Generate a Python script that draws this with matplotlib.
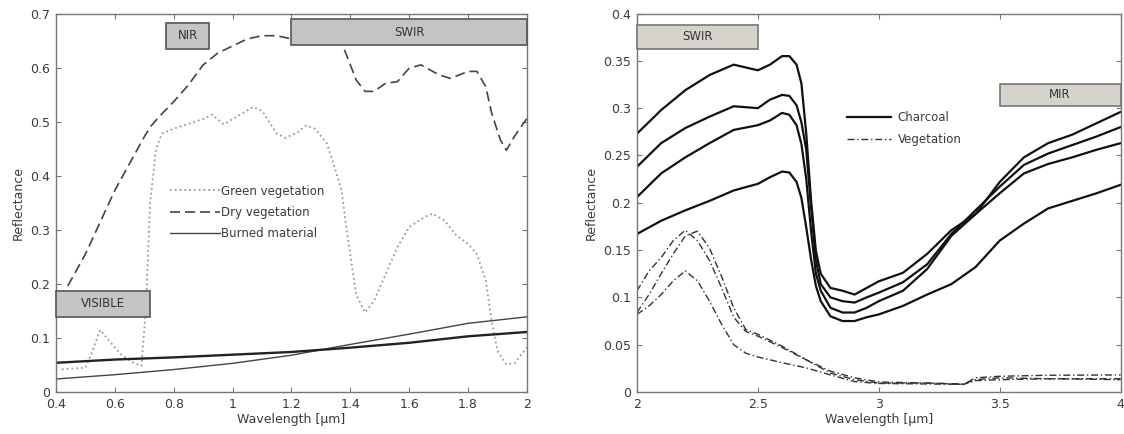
import numpy as np
import matplotlib
matplotlib.use("Agg")
import matplotlib.pyplot as plt
from matplotlib.patches import Rectangle
from matplotlib.ticker import FuncFormatter

# ---- left panel: VIS / NIR / SWIR spectra ----
green_wl = [0.42, 0.50, 0.52, 0.55, 0.58, 0.62, 0.66, 0.69, 0.705, 0.72, 0.74, 0.76, 0.80, 0.90, 0.93,
            0.97, 1.00, 1.07, 1.10, 1.15, 1.18, 1.22, 1.25, 1.28, 1.32, 1.35, 1.37, 1.39, 1.42, 1.45,
            1.48, 1.52, 1.56, 1.60, 1.65, 1.68, 1.72, 1.76, 1.80, 1.83, 1.86, 1.88, 1.90, 1.93, 1.96,
            1.98, 2.00]
green_refl = [0.042, 0.045, 0.070, 0.115, 0.095, 0.070, 0.055, 0.048, 0.15, 0.35, 0.45, 0.478, 0.487,
              0.505, 0.513, 0.495, 0.505, 0.527, 0.520, 0.478, 0.470, 0.480, 0.493, 0.487, 0.460, 0.410,
              0.373, 0.290, 0.180, 0.147, 0.168, 0.218, 0.268, 0.305, 0.323, 0.330, 0.317, 0.290, 0.274,
              0.255, 0.206, 0.131, 0.076, 0.051, 0.054, 0.069, 0.082]

dry_wl = [0.44, 0.50, 0.60, 0.70, 0.72, 0.75, 0.80, 0.85, 0.90, 0.95, 1.00, 1.05, 1.10, 1.15, 1.20,
          1.30, 1.38, 1.42, 1.45, 1.48, 1.52, 1.56, 1.60, 1.64, 1.70, 1.74, 1.80, 1.83, 1.86, 1.88,
          1.91, 1.93, 1.96, 2.00]
dry_refl = [0.196, 0.255, 0.373, 0.472, 0.490, 0.509, 0.537, 0.568, 0.605, 0.627, 0.640, 0.653, 0.659,
            0.659, 0.653, np.nan, 0.633, 0.577, 0.556, 0.556, 0.571, 0.574, 0.599, 0.605, 0.587, 0.580,
            0.593, 0.593, 0.565, 0.516, 0.466, 0.447, 0.475, 0.506]

burned_wl = [0.4, 0.6, 0.8, 1.0, 1.2, 1.4, 1.6, 1.8, 2.0]
burned_a = [0.054, 0.060, 0.064, 0.069, 0.074, 0.082, 0.091, 0.103, 0.111]
burned_b = [0.024, 0.032, 0.0415, 0.053, 0.068, 0.088, 0.107, 0.127, 0.139]

# ---- right panel: SWIR / MIR spectra ----
char_wl = [2.0, 2.1, 2.2, 2.3, 2.4, 2.5, 2.55, 2.6, 2.63, 2.66, 2.68, 2.70, 2.72, 2.74, 2.76, 2.8,
           2.85, 2.9, 2.95, 3.0, 3.1, 3.2, 3.3, 3.4, 3.5, 3.6, 3.7, 3.8, 3.9, 4.0]
charcoal_1 = [0.273, 0.298, 0.319, 0.335, 0.346, 0.340, 0.346, 0.355, 0.355, 0.346, 0.326, 0.273, 0.202,
              0.149, 0.125, 0.110, 0.107, 0.103, 0.110, 0.117, 0.126, 0.146, 0.171, 0.188, 0.222, 0.248,
              0.263, 0.272, 0.284, 0.296]
charcoal_2 = [0.238, 0.263, 0.279, 0.291, 0.302, 0.300, 0.309, 0.314, 0.313, 0.303, 0.285, 0.256, 0.195,
              0.139, 0.114, 0.100, 0.096, 0.0945, 0.100, 0.105, 0.116, 0.135, 0.167, 0.192, 0.217, 0.240,
              0.252, 0.261, 0.270, 0.280]
charcoal_3 = [0.206, 0.231, 0.248, 0.263, 0.277, 0.282, 0.287, 0.295, 0.293, 0.282, 0.262, 0.225, 0.170,
              0.125, 0.107, 0.089, 0.084, 0.084, 0.089, 0.096, 0.107, 0.130, 0.165, 0.188, 0.210, 0.231,
              0.241, 0.248, 0.256, 0.263]
charcoal_4 = [0.167, 0.181, 0.192, 0.202, 0.213, 0.220, 0.227, 0.233, 0.232, 0.222, 0.205, 0.174, 0.140,
              0.112, 0.096, 0.080, 0.075, 0.075, 0.079, 0.082, 0.091, 0.103, 0.114, 0.132, 0.160, 0.178,
              0.194, 0.202, 0.210, 0.219]

veg_wl = [2.0, 2.05, 2.1, 2.15, 2.2, 2.25, 2.3, 2.35, 2.4, 2.45, 2.5, 2.6, 2.7, 2.8, 2.9, 3.0, 3.2,
          3.35, 3.4, 3.5, 3.7, 4.0]
veg_1 = [0.107, 0.128, 0.142, 0.160, 0.171, 0.160, 0.139, 0.110, 0.079, 0.064, 0.059, 0.047, 0.034,
         0.020, 0.013, 0.0095, 0.0095, 0.008, 0.015, 0.0166, 0.0177, 0.018]
veg_2 = [0.084, 0.103, 0.125, 0.146, 0.165, 0.170, 0.152, 0.122, 0.089, 0.066, 0.061, 0.0485, 0.034,
         0.022, 0.015, 0.0106, 0.0095, 0.0085, 0.013, 0.015, 0.014, 0.013]
veg_3 = [0.082, 0.091, 0.103, 0.1175, 0.128, 0.1175, 0.096, 0.0715, 0.050, 0.041, 0.037, 0.031,
         0.0255, 0.018, 0.011, 0.009, 0.0085, 0.008, 0.012, 0.013, 0.014, 0.014]

# band boxes: (label, x0, x1, y0, y1)
left_bands = [("NIR", 0.775, 0.92, 0.635, 0.683),
              ("SWIR", 1.2, 2.0, 0.642, 0.689),
              ("VISIBLE", 0.4, 0.72, 0.139, 0.187)]
right_bands = [("SWIR", 2.0, 2.5, 0.3625, 0.388),
               ("MIR", 3.5, 4.0, 0.302, 0.326)]

plt.rcParams['font.family'] = ['DejaVu Sans']
txt = '#3a3a3a'


def gfmt(v, pos):
    return '%g' % round(v, 3)


def style_axes(ax):
    for s in ax.spines.values():
        s.set_color('#777777')
        s.set_linewidth(1.0)
    ax.tick_params(direction='in', top=True, right=True, length=3.5, width=0.8,
                   colors='#777777', labelcolor=txt, labelsize=9, pad=4)
    ax.xaxis.set_major_formatter(FuncFormatter(gfmt))
    ax.yaxis.set_major_formatter(FuncFormatter(gfmt))


def add_bands(ax, bands, face, edge):
    for name, x0, x1, y0, y1 in bands:
        ax.add_patch(Rectangle((x0, y0), x1 - x0, y1 - y0, facecolor=face, edgecolor=edge,
                               linewidth=1.2, zorder=5, clip_on=False))
        ax.text((x0 + x1) / 2, (y0 + y1) / 2, name, ha='center', va='center', fontsize=8.5,
                color='#333333', zorder=6)


fig = plt.figure(figsize=(11.24, 4.34), dpi=100)
ax1 = fig.add_axes([0.0498, 0.0968, 0.419, 0.872])
ax2 = fig.add_axes([0.5667, 0.0968, 0.4303, 0.872])

# left
ax1.plot(green_wl, green_refl, linestyle=':', color='#9a9a9a', linewidth=1.3, label='Green vegetation')
ax1.plot(dry_wl, dry_refl, linestyle=(0, (6, 3)), color='#444444', linewidth=1.2, label='Dry vegetation')
ax1.plot(burned_wl, burned_b, '-', color='#444444', linewidth=1.0, label='Burned material')
ax1.plot(burned_wl, burned_a, '-', color='#222222', linewidth=1.7)
ax1.set_xlim(0.4, 2.0)
ax1.set_ylim(0, 0.7)
ax1.set_xticks(np.arange(0.4, 2.01, 0.2))
ax1.set_yticks(np.arange(0, 0.71, 0.1))
style_axes(ax1)
ax1.set_xlabel('Wavelength [\u00b5m]', fontsize=9, color=txt, labelpad=2)
ax1.set_ylabel('Reflectance', fontsize=9, color=txt, labelpad=4)
add_bands(ax1, left_bands, '#c4c4c4', '#555555')
ax1.legend(loc='upper left', bbox_to_anchor=(0.243, 0.548), frameon=False, fontsize=8.5,
           handlelength=4.2, handletextpad=0.1, labelspacing=0.7, borderpad=0, borderaxespad=0,
           labelcolor=txt)

# right
for c in (charcoal_1, charcoal_2, charcoal_3, charcoal_4):
    ax2.plot(char_wl, c, '-', color='#111111', linewidth=1.6)
for v in (veg_1, veg_2, veg_3):
    ax2.plot(veg_wl, v, linestyle=(0, (5, 2, 1, 2)), color='#333333', linewidth=1.0)
ax2.plot([], [], '-', color='#111111', linewidth=1.6, label='Charcoal')
ax2.plot([], [], linestyle=(0, (5, 2, 1, 2)), color='#333333', linewidth=1.0, label='Vegetation')
ax2.set_xlim(2, 4)
ax2.set_ylim(0, 0.4)
ax2.set_xticks(np.arange(2, 4.01, 0.5))
ax2.set_yticks(np.arange(0, 0.401, 0.05))
style_axes(ax2)
ax2.set_xlabel('Wavelength [\u00b5m]', fontsize=9, color=txt, labelpad=2)
ax2.set_ylabel('Reflectance', fontsize=9, color=txt, labelpad=4)
add_bands(ax2, right_bands, '#d6d3cc', '#777777')
ax2.legend(loc='upper left', bbox_to_anchor=(0.434, 0.742), frameon=False, fontsize=8.5,
           handlelength=3.7, handletextpad=0.6, labelspacing=0.75, borderpad=0, borderaxespad=0,
           labelcolor=txt)

fig.savefig('out.png', dpi=100)
